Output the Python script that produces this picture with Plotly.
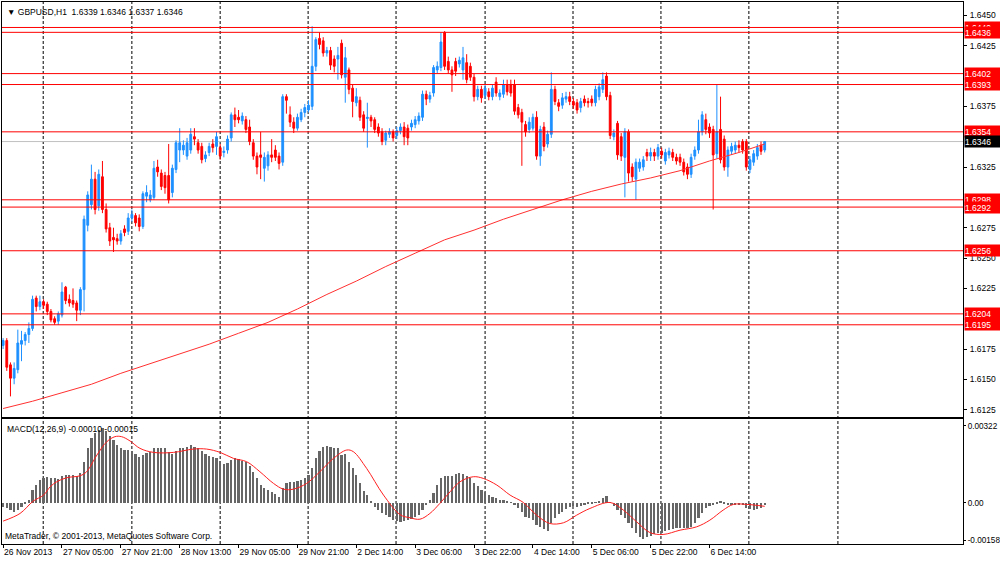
import plotly.graph_objects as go

# GBPUSD H1, bars from 26 Nov 2013 13:00 (one value per hourly bar)
open_px = [
    1.6178, 1.6182, 1.6162, 1.6151, 1.6158, 1.6179, 1.6182, 1.6187, 1.6192, 1.6217,
    1.6210, 1.6214, 1.6212, 1.6206, 1.6200, 1.6198, 1.6203, 1.6226, 1.6216, 1.6215,
    1.6213, 1.6207, 1.6224, 1.6277, 1.6294, 1.6315, 1.6293, 1.6317, 1.6290, 1.6275,
    1.6267, 1.6266, 1.6264, 1.6274, 1.6272, 1.6283, 1.6285, 1.6283, 1.6276, 1.6301,
    1.6298, 1.6300, 1.6325, 1.6320, 1.6318, 1.6318, 1.6304, 1.6323, 1.6339, 1.6339,
    1.6334, 1.6339, 1.6350, 1.6345, 1.6342, 1.6332, 1.6337, 1.6344, 1.6342, 1.6341,
    1.6337, 1.6339, 1.6349, 1.6368, 1.6366, 1.6363, 1.6364, 1.6358, 1.6345, 1.6334,
    1.6335, 1.6324, 1.6326, 1.6335, 1.6339, 1.6334, 1.6329, 1.6383, 1.6368, 1.6362,
    1.6357, 1.6364, 1.6370, 1.6372, 1.6375, 1.6408, 1.6431, 1.6429, 1.6419, 1.6421,
    1.6414, 1.6414, 1.6427, 1.6399, 1.6405, 1.6390, 1.6378, 1.6380, 1.6368, 1.6365,
    1.6366, 1.6364, 1.6358, 1.6354, 1.6347, 1.6352, 1.6354, 1.6351, 1.6355, 1.6358,
    1.6357, 1.6358, 1.6360, 1.6363, 1.6366, 1.6385, 1.6381, 1.6386, 1.6405, 1.6407,
    1.6436, 1.6412, 1.6405, 1.6412, 1.6410, 1.6405, 1.6411, 1.6408, 1.6399, 1.6383,
    1.6389, 1.6384, 1.6387, 1.6383, 1.6395, 1.6383, 1.6385, 1.6393, 1.6393, 1.6393,
    1.6374, 1.6370, 1.6360, 1.6356, 1.6357, 1.6366, 1.6334, 1.6358, 1.6344, 1.6352,
    1.6389, 1.6378, 1.6376, 1.6381, 1.6383, 1.6379, 1.6378, 1.6374, 1.6381, 1.6379,
    1.6381, 1.6378, 1.6383, 1.6389, 1.6400, 1.6384, 1.6350, 1.6361, 1.6350, 1.6333,
    1.6354, 1.6325, 1.6315, 1.6324, 1.6325, 1.6337, 1.6334, 1.6337, 1.6334, 1.6338,
    1.6330, 1.6335, 1.6337, 1.6333, 1.6333, 1.6329, 1.6325, 1.6319, 1.6334, 1.6339,
    1.6354, 1.6364, 1.6358, 1.6356, 1.6336, 1.6356, 1.6348, 1.6325, 1.6338, 1.6339,
    1.6343, 1.6346, 1.6346, 1.6323, 1.6329, 1.6334, 1.6343, 1.6339,
]
high_px = [
    1.6184, 1.6184, 1.6164, 1.6164, 1.6191, 1.6190, 1.6189, 1.6197, 1.6219, 1.6219,
    1.6219, 1.6216, 1.6214, 1.6208, 1.6202, 1.6206, 1.6230, 1.6227, 1.6220, 1.6225,
    1.6215, 1.6226, 1.6285, 1.6305, 1.6327, 1.6321, 1.6323, 1.6330, 1.6295, 1.6279,
    1.6275, 1.6270, 1.6273, 1.6277, 1.6287, 1.6290, 1.6287, 1.6286, 1.6305, 1.6310,
    1.6306, 1.6330, 1.6331, 1.6323, 1.6321, 1.6344, 1.6327, 1.6347, 1.6357, 1.6347,
    1.6349, 1.6357, 1.6357, 1.6348, 1.6345, 1.6338, 1.6345, 1.6348, 1.6354, 1.6344,
    1.6342, 1.6351, 1.6370, 1.6374, 1.6372, 1.6370, 1.6367, 1.6364, 1.6348, 1.6337,
    1.6354, 1.6337, 1.6338, 1.6348, 1.6343, 1.6337, 1.6385, 1.6385, 1.6375, 1.6366,
    1.6369, 1.6373, 1.6377, 1.6380, 1.6441, 1.6432, 1.6436, 1.6432, 1.6424, 1.6424,
    1.6417, 1.6424, 1.6430, 1.6424, 1.6407, 1.6393, 1.6390, 1.6383, 1.6371, 1.6378,
    1.6368, 1.6366, 1.6361, 1.6357, 1.6355, 1.6357, 1.6356, 1.6358, 1.6361, 1.6362,
    1.6360, 1.6364, 1.6367, 1.6370, 1.6388, 1.6388, 1.6387, 1.6409, 1.6412, 1.6436,
    1.6437, 1.6416, 1.6408, 1.6415, 1.6416, 1.6424, 1.6418, 1.6411, 1.6402, 1.6392,
    1.6392, 1.6393, 1.6390, 1.6393, 1.6399, 1.6389, 1.6397, 1.6397, 1.6397, 1.6397,
    1.6377, 1.6373, 1.6363, 1.6366, 1.6369, 1.6371, 1.6359, 1.6362, 1.6355, 1.6403,
    1.6392, 1.6381, 1.6386, 1.6387, 1.6387, 1.6382, 1.6381, 1.6382, 1.6384, 1.6382,
    1.6384, 1.6392, 1.6394, 1.6403, 1.6403, 1.6387, 1.6356, 1.6363, 1.6353, 1.6357,
    1.6356, 1.6328, 1.6332, 1.6332, 1.6334, 1.6340, 1.6341, 1.6340, 1.6344, 1.6341,
    1.6340, 1.6341, 1.6340, 1.6336, 1.6336, 1.6332, 1.6328, 1.6336, 1.6342, 1.6364,
    1.6371, 1.6369, 1.6361, 1.6359, 1.6393, 1.6383, 1.6351, 1.6342, 1.6345, 1.6346,
    1.6347, 1.6348, 1.6348, 1.6334, 1.6339, 1.6344, 1.6346, 1.6346,
]
low_px = [
    1.6175, 1.6157, 1.6136, 1.6146, 1.6155, 1.6165, 1.6178, 1.6180, 1.6190, 1.6206,
    1.6207, 1.6208, 1.6203, 1.6197, 1.6195, 1.6195, 1.6201, 1.6212, 1.6210, 1.6209,
    1.6198, 1.6203, 1.6206, 1.6272, 1.6290, 1.6286, 1.6289, 1.6287, 1.6271, 1.6260,
    1.6255, 1.6261, 1.6261, 1.6268, 1.6269, 1.6280, 1.6276, 1.6272, 1.6274, 1.6296,
    1.6296, 1.6298, 1.6317, 1.6306, 1.6303, 1.6295, 1.6300, 1.6320, 1.6329, 1.6335,
    1.6331, 1.6336, 1.6343, 1.6336, 1.6328, 1.6329, 1.6334, 1.6337, 1.6335, 1.6331,
    1.6333, 1.6336, 1.6346, 1.6358, 1.6361, 1.6360, 1.6353, 1.6343, 1.6331, 1.6319,
    1.6315, 1.6313, 1.6322, 1.6329, 1.6330, 1.6323, 1.6326, 1.6369, 1.6358, 1.6353,
    1.6355, 1.6362, 1.6366, 1.6370, 1.6372, 1.6404, 1.6422, 1.6416, 1.6416, 1.6405,
    1.6403, 1.6397, 1.6398, 1.6378, 1.6385, 1.6366, 1.6375, 1.6363, 1.6354, 1.6341,
    1.6358, 1.6353, 1.6350, 1.6343, 1.6343, 1.6349, 1.6346, 1.6348, 1.6352, 1.6343,
    1.6343, 1.6355, 1.6357, 1.6360, 1.6363, 1.6376, 1.6378, 1.6383, 1.6402, 1.6404,
    1.6405, 1.6402, 1.6387, 1.6400, 1.6407, 1.6397, 1.6394, 1.6396, 1.6379, 1.6380,
    1.6378, 1.6381, 1.6380, 1.6380, 1.6383, 1.6380, 1.6382, 1.6384, 1.6383, 1.6368,
    1.6365, 1.6326, 1.6350, 1.6353, 1.6355, 1.6331, 1.6326, 1.6338, 1.6341, 1.6349,
    1.6376, 1.6371, 1.6373, 1.6378, 1.6376, 1.6373, 1.6369, 1.6370, 1.6375, 1.6374,
    1.6375, 1.6375, 1.6380, 1.6386, 1.6380, 1.6348, 1.6347, 1.6331, 1.6330, 1.6300,
    1.6313, 1.6313, 1.6298, 1.6321, 1.6322, 1.6330, 1.6330, 1.6330, 1.6331, 1.6332,
    1.6327, 1.6332, 1.6330, 1.6327, 1.6326, 1.6318, 1.6315, 1.6316, 1.6331, 1.6336,
    1.6351, 1.6352, 1.6349, 1.6290, 1.6332, 1.6328, 1.6322, 1.6317, 1.6335, 1.6336,
    1.6337, 1.6336, 1.6322, 1.6320, 1.6326, 1.6331, 1.6335, 1.6337,
]
close_px = [
    1.6182, 1.6160, 1.6151, 1.6159, 1.6180, 1.6182, 1.6187, 1.6192, 1.6216, 1.6210,
    1.6214, 1.6211, 1.6206, 1.6199, 1.6197, 1.6204, 1.6222, 1.6215, 1.6213, 1.6212,
    1.6207, 1.6224, 1.6282, 1.6302, 1.6315, 1.6290, 1.6319, 1.6290, 1.6274, 1.6264,
    1.6265, 1.6264, 1.6270, 1.6271, 1.6283, 1.6286, 1.6279, 1.6276, 1.6303, 1.6304,
    1.6302, 1.6324, 1.6321, 1.6309, 1.6308, 1.6298, 1.6324, 1.6345, 1.6345, 1.6343,
    1.6345, 1.6352, 1.6348, 1.6339, 1.6331, 1.6335, 1.6342, 1.6341, 1.6350, 1.6334,
    1.6338, 1.6348, 1.6368, 1.6364, 1.6364, 1.6367, 1.6356, 1.6346, 1.6334, 1.6325,
    1.6333, 1.6333, 1.6335, 1.6333, 1.6333, 1.6328, 1.6383, 1.6380, 1.6362, 1.6357,
    1.6366, 1.6370, 1.6374, 1.6376, 1.6408, 1.6430, 1.6426, 1.6419, 1.6421, 1.6409,
    1.6408, 1.6417, 1.6401, 1.6415, 1.6389, 1.6379, 1.6383, 1.6366, 1.6357, 1.6366,
    1.6363, 1.6356, 1.6353, 1.6346, 1.6353, 1.6354, 1.6349, 1.6355, 1.6358, 1.6350,
    1.6349, 1.6361, 1.6364, 1.6367, 1.6385, 1.6381, 1.6384, 1.6407, 1.6408, 1.6428,
    1.6408, 1.6405, 1.6401, 1.6404, 1.6413, 1.6415, 1.6397, 1.6399, 1.6383, 1.6389,
    1.6382, 1.6390, 1.6383, 1.6390, 1.6386, 1.6386, 1.6393, 1.6387, 1.6386, 1.6371,
    1.6368, 1.6362, 1.6354, 1.6362, 1.6366, 1.6334, 1.6356, 1.6342, 1.6352, 1.6389,
    1.6379, 1.6375, 1.6382, 1.6383, 1.6379, 1.6376, 1.6372, 1.6379, 1.6378, 1.6378,
    1.6378, 1.6389, 1.6391, 1.6397, 1.6383, 1.6351, 1.6353, 1.6335, 1.6334, 1.6354,
    1.6320, 1.6317, 1.6329, 1.6329, 1.6331, 1.6334, 1.6337, 1.6334, 1.6341, 1.6335,
    1.6337, 1.6338, 1.6333, 1.6330, 1.6329, 1.6321, 1.6319, 1.6333, 1.6339, 1.6354,
    1.6368, 1.6356, 1.6353, 1.6335, 1.6354, 1.6331, 1.6325, 1.6339, 1.6342, 1.6343,
    1.6341, 1.6339, 1.6325, 1.6331, 1.6336, 1.6341, 1.6338, 1.6346,
]

# moving average read at every 8th bar
ma_bar = [0, 8, 16, 24, 32, 40, 48, 56, 64, 72, 80, 88, 96, 104, 112, 120, 128,
          136, 144, 152, 160, 168, 176, 184, 192, 200, 207]
ma_val = [1.6126, 1.6132, 1.6139, 1.6146, 1.6155, 1.6163, 1.6171, 1.6179, 1.6188,
          1.6197, 1.6208, 1.6220, 1.6231, 1.6243, 1.6254, 1.6265, 1.6273, 1.6282,
          1.6290, 1.6298, 1.6305, 1.6311, 1.6316, 1.6322, 1.6330, 1.6337, 1.6344]

# MACD(12,26,9) histogram, one per bar
macd_hist = [
    -0.00017, -0.00024, -0.00031, -0.00038, -0.00031, -0.00017, -0.00003, 0.00011, 0.00053, 0.00074,
    0.00095, 0.00105, 0.00109, 0.00105, 0.00102, 0.00099, 0.00113, 0.00116, 0.00116, 0.00116,
    0.00113, 0.00123, 0.00172, 0.00228, 0.00273, 0.00291, 0.00305, 0.00312, 0.00301, 0.00281,
    0.00263, 0.00242, 0.00228, 0.00221, 0.00221, 0.00217, 0.00203, 0.00193, 0.00200, 0.00207,
    0.00211, 0.00228, 0.00231, 0.00228, 0.00228, 0.00211, 0.00203, 0.00217, 0.00228, 0.00231,
    0.00235, 0.00242, 0.00235, 0.00228, 0.00217, 0.00203, 0.00197, 0.00193, 0.00186, 0.00175,
    0.00161, 0.00165, 0.00179, 0.00186, 0.00182, 0.00175, 0.00172, 0.00155, 0.00130, 0.00102,
    0.00074, 0.00063, 0.00053, 0.00043, 0.00036, 0.00025, 0.00060, 0.00084, 0.00088, 0.00088,
    0.00091, 0.00094, 0.00102, 0.00116, 0.00144, 0.00186, 0.00217, 0.00232, 0.00239, 0.00235,
    0.00231, 0.00228, 0.00200, 0.00203, 0.00172, 0.00144, 0.00116, 0.00081, 0.00049, 0.00032,
    0.00004, -0.00017, -0.00031, -0.00045, -0.00052, -0.00059, -0.00071, -0.00075, -0.00080, -0.00077,
    -0.00073, -0.00069, -0.00059, -0.00052, -0.00031, -0.00010, 0.00011, 0.00039, 0.00074, 0.00102,
    0.00112, 0.00112, 0.00112, 0.00119, 0.00123, 0.00119, 0.00112, 0.00102, 0.00084, 0.00071,
    0.00053, 0.00043, 0.00032, 0.00025, 0.00018, 0.00011, 0.00011, 0.00008, 0.00001, -0.00010,
    -0.00024, -0.00038, -0.00059, -0.00066, -0.00073, -0.00094, -0.00101, -0.00111, -0.00119, -0.00087,
    -0.00066, -0.00049, -0.00038, -0.00027, -0.00017, -0.00013, -0.00017, -0.00013, -0.00010, -0.00007,
    -0.00003, 0.00001, 0.00007, 0.00021, 0.00029, 0.00001, -0.00013, -0.00031, -0.00052, -0.00066,
    -0.00083, -0.00108, -0.00129, -0.00143, -0.00150, -0.00143, -0.00139, -0.00133, -0.00129, -0.00125,
    -0.00119, -0.00115, -0.00111, -0.00108, -0.00105, -0.00105, -0.00105, -0.00101, -0.00087, -0.00066,
    -0.00045, -0.00024, -0.00013, -0.00010, -0.00003, 0.00007, -0.00003, -0.00010, -0.00010, -0.00010,
    -0.00010, -0.00010, -0.00021, -0.00027, -0.00031, -0.00027, -0.00021, -0.00010,
]

# MACD signal line, read at these bar positions
sig_bar = [0, 4.6, 8.2, 11, 12.8, 14.6, 17.3, 20.9, 22.7, 25.5, 28.2, 30.4, 32.2, 34.5,
           37.2, 40.9, 46.3, 51.7, 55.3, 59, 62.6, 66.2, 69.8, 73.5, 76.2, 78.9, 82.5,
           86.1, 89.8, 93.4, 95.2, 98.8, 103.4, 107.9, 110.6, 113.3, 116, 118.7, 121.5,
           124.2, 127.8, 130.5, 134.2, 137.8, 141.4, 145, 148.6, 152.3, 155.9, 159.5,
           165, 168.6, 172.2, 175.8, 179.4, 184, 188.5, 192.1, 195.7, 198.5, 202.1, 207]
sig_val = [-0.00077, -0.00045, 0.00007, 0.00032, 0.00067, 0.00088, 0.00105, 0.00113,
           0.00130, 0.00200, 0.00256, 0.00277, 0.00277, 0.00259, 0.00228, 0.00211,
           0.00211, 0.00225, 0.00225, 0.00211, 0.00186, 0.00172, 0.00130, 0.00081,
           0.00057, 0.00057, 0.00081, 0.00130, 0.00186, 0.00221, 0.00214, 0.00144,
           0.00032, -0.00050, -0.00063, -0.00069, -0.00045, -0.00003, 0.00046, 0.00088,
           0.00109, 0.00102, 0.00074, 0.00032, 0.00001, -0.00052, -0.00087, -0.00084,
           -0.00052, -0.00024, 0.00001, -0.00031, -0.00080, -0.00125, -0.00133, -0.00115,
           -0.00101, -0.00073, -0.00031, -0.00007, -0.00007, -0.00015]

# horizontal levels and current bid
levels = [1.6440, 1.6436, 1.6402, 1.6393, 1.6354, 1.6298, 1.6292, 1.6256, 1.6204, 1.6195]
last_price = 1.6346

# day separators (bar positions) and time axis labels
day_sep = [10.9, 35, 59, 82.9, 106.8, 131, 154.9, 178.8, 202.7, 226.9]
tick_bar = [0, 16, 32, 48, 64, 80, 96, 112, 128, 144, 160, 176, 192]
tick_text = ['26 Nov 2013', '27 Nov 05:00', '27 Nov 21:00', '28 Nov 13:00',
             '29 Nov 05:00', '29 Nov 21:00', '2 Dec 14:00', '3 Dec 06:00',
             '3 Dec 22:00', '4 Dec 14:00', '5 Dec 06:00', '5 Dec 22:00', '6 Dec 14:00']
price_ticks = [1.6450, 1.6425, 1.6375, 1.6325, 1.6275, 1.6250, 1.6225, 1.6175, 1.6150, 1.6125]
macd_ticks = [0.00322, 0.0, -0.00158]
macd_tick_text = ['0.00322', '0.00', '-0.00158']

FONT = 'Liberation Sans'
bar_idx = list(range(len(close_px)))
x_range = [-0.3, 260.9]

fig = go.Figure()

fig.add_trace(go.Candlestick(
    x=bar_idx, open=open_px, high=high_px, low=low_px, close=close_px,
    increasing=dict(line=dict(color='#1E90FF', width=1), fillcolor='#1E90FF'),
    decreasing=dict(line=dict(color='#FF0000', width=1), fillcolor='#FF0000'),
    whiskerwidth=0, showlegend=False, xaxis='x', yaxis='y'))

fig.add_trace(go.Scatter(x=ma_bar, y=ma_val, mode='lines',
                         line=dict(color='#FF3030', width=1),
                         showlegend=False, xaxis='x', yaxis='y'))

fig.add_trace(go.Bar(x=bar_idx, y=macd_hist, width=0.6,
                     marker=dict(color='#666666', line=dict(width=0)),
                     showlegend=False, xaxis='x2', yaxis='y2'))

fig.add_trace(go.Scatter(x=sig_bar, y=sig_val, mode='lines', line_shape='spline',
                         line=dict(color='#FF2020', width=1),
                         showlegend=False, xaxis='x2', yaxis='y2'))

shapes = []
for d in day_sep:
    shapes.append(dict(type='line', xref='x', yref='paper', x0=d, x1=d, y0=0, y1=1,
                       line=dict(color='black', width=1, dash='3px,2px'), layer='below'))
shapes.append(dict(type='line', xref='x domain', yref='y', x0=0, x1=1,
                   y0=last_price, y1=last_price,
                   line=dict(color='#C0C0C0', width=1), layer='below'))
for lv in levels:
    shapes.append(dict(type='line', xref='x domain', yref='y', x0=0, x1=1, y0=lv, y1=lv,
                       line=dict(color='#FF0000', width=1), layer='above'))

label_font = dict(family=FONT, size=8.5, color='white')
annotations = []
for lv in levels:
    annotations.append(dict(xref='x domain', yref='y', x=1, y=lv, xanchor='left',
                            xshift=1, text=f'{lv:.4f}', showarrow=False,
                            bgcolor='#FF0000', font=label_font,
                            width=35, height=11, align='left', borderpad=0))
annotations.append(dict(xref='x domain', yref='y', x=1, y=last_price, xanchor='left',
                        xshift=1, text=f'{last_price:.4f}', showarrow=False,
                        bgcolor='black', font=label_font,
                        width=35, height=11, align='left', borderpad=0))
annotations.append(dict(xref='paper', yref='paper', x=0, y=1, xanchor='left', yanchor='top',
                        xshift=3, yshift=-3, showarrow=False,
                        text='▼ GBPUSD,H1  1.6339 1.6346 1.6337 1.6346',
                        font=dict(family=FONT, size=8.5, color='black')))
annotations.append(dict(xref='paper', yref='y2 domain', x=0, y=1, xanchor='left',
                        yanchor='top', xshift=3, yshift=-3, showarrow=False,
                        text='MACD(12,26,9) -0.00010 -0.00015',
                        font=dict(family=FONT, size=8.5, color='black')))
annotations.append(dict(xref='paper', yref='y2 domain', x=0, y=0, xanchor='left',
                        yanchor='bottom', xshift=1, yshift=1, showarrow=False,
                        text='MetaTrader, © 2001-2013, MetaQuotes Software Corp.',
                        font=dict(family=FONT, size=8.5, color='black')))

axis_common = dict(showline=True, mirror=True, linecolor='black', linewidth=1,
                   showgrid=False, zeroline=False, automargin=False)
tick_font = dict(family=FONT, size=8.5, color='black')

fig.update_layout(
    width=1000, height=561,
    margin=dict(l=2, r=37, t=2, b=17),
    paper_bgcolor='white', plot_bgcolor='white',
    font=dict(family=FONT, size=9, color='black'),
    showlegend=False, bargap=0,
    shapes=shapes, annotations=annotations,
    xaxis=dict(domain=[0, 1], range=x_range, anchor='y', showticklabels=False,
               ticks='', rangeslider=dict(visible=False), **axis_common),
    xaxis2=dict(domain=[0, 1], range=x_range, anchor='y2', matches='x',
                tickvals=tick_bar, ticktext=tick_text, ticks='outside', ticklen=3,
                tickcolor='black', tickangle=0, ticklabelposition='outside right',
                tickfont=tick_font, **axis_common),
    yaxis=dict(domain=[0.2343, 1], range=[1.6119, 1.6461], side='right', anchor='x',
               tickvals=price_ticks, tickformat='.4f', ticks='outside', ticklen=3,
               tickcolor='black', ticklabelstandoff=1, tickfont=tick_font, **axis_common),
    yaxis2=dict(domain=[0, 0.2306], range=[-0.00173, 0.00351], side='right', anchor='x2',
                tickvals=macd_ticks, ticktext=macd_tick_text, ticks='outside', ticklen=2,
                tickcolor='black', ticklabelstandoff=0,
                tickfont=dict(family=FONT, size=8.2, color='black'), **axis_common),
)

# the page body has a default 8px margin; drop it so the chart sits at the window corner
fig.write_html('out.html', config={'displayModeBar': False},
               post_script="document.body.style.margin='0px';")
